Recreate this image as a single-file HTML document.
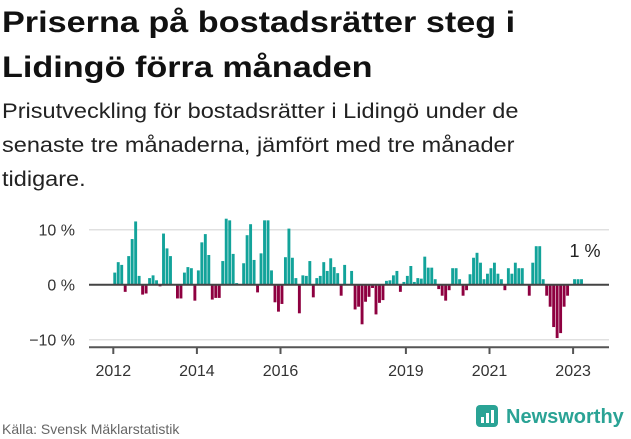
<!DOCTYPE html>
<html><head><meta charset="utf-8"><style>
body{margin:0;width:631px;height:439px;background:#fff;font-family:"Liberation Sans",sans-serif;overflow:hidden;position:relative}
h1{position:absolute;left:2px;top:0px;margin:0;font-size:30px;line-height:45px;font-weight:bold;color:#111;width:900px}
p.sub{position:absolute;left:2px;top:95px;margin:0;font-size:21px;line-height:34px;color:#222;width:900px}
.ln{display:block;transform:scaleX(1.14);transform-origin:left;white-space:nowrap}
.sub .ln{transform:scaleX(1.12)}
.foot{position:absolute;left:2px;top:421px;font-size:14px;color:#666}
.logo{position:absolute;left:476px;top:405px;font-size:20px;font-weight:bold;color:#2aa395;display:flex;align-items:center}
</style></head><body>
<h1><span class="ln">Priserna på bostadsrätter steg i</span><span class="ln">Lidingö förra månaden</span></h1>
<p class="sub"><span class="ln">Prisutveckling för bostadsrätter i Lidingö under de</span><span class="ln">senaste tre månaderna, jämfört med tre månader</span><span class="ln">tidigare.</span></p>
<svg id="chart" width="631" height="439" style="position:absolute;left:0;top:0"></svg>
<div class="foot">Källa: Svensk Mäklarstatistik</div>
<div class="logo"><svg width="24" height="24" style="margin-right:6px"><rect x="0" y="0" width="22" height="22" rx="4" fill="#2aa395"/><rect x="5" y="12" width="3" height="6" fill="#fff"/><rect x="10" y="8" width="3" height="10" fill="#fff"/><rect x="15" y="5" width="3" height="13" fill="#fff"/></svg>Newsworthy</div>
<script>
const values=[2.2,4.1,3.6,-1.3,5.2,8.3,11.5,1.6,-1.8,-1.6,1.2,1.7,0.8,-0.3,9.3,6.6,5.2,0,-2.5,-2.5,2.2,3.2,3.0,-2.9,2.6,7.7,9.2,5.4,-2.7,-2.4,-2.4,4.3,12.0,11.7,5.6,0.3,0,3.9,9.0,11.0,4.5,-1.4,5.7,11.7,11.7,2.6,-3.2,-4.9,-3.5,5.0,10.2,4.9,1.2,-5.2,1.7,1.6,4.3,-2.3,1.2,1.6,4.1,2.5,4.8,3.2,2.1,-2.0,3.6,0,2.5,-4.5,-4.0,-7.2,-3.1,-2.2,-0.6,-5.4,-3.3,-2.8,0.7,0.8,1.7,2.5,-1.3,0.5,1.6,3.4,0.5,1.2,1.1,5.1,3.1,3.1,1.0,-0.8,-2.0,-2.9,-1.0,3.0,3.0,1.0,-2.0,-1.0,1.9,4.9,5.8,4.0,1.0,2.0,3.0,4.0,2.0,1.0,-1.0,3.0,2.0,4.0,3.0,3.0,0,-2.0,4.0,7.0,7.0,1.0,-2.0,-4.0,-7.7,-9.7,-8.8,-4.0,-2.0,0,1.0,1.0,1.0];
const startYear=2012;
const yTicks=[10,0,-10];
const yTickLabels=["10 %","0 %","−10 %"];
const xTicks=[2012,2014,2016,2019,2021,2023];
const lastLabel="1 %";
const svg=document.getElementById('chart');const NS="http://www.w3.org/2000/svg";
const x0=113.3,pxYear=41.8,left=89,right=609;
const X=m=>x0+m*pxYear/12;
const Y=v=>284.7-v*5.5;
function mk(t,a){const e=document.createElementNS(NS,t);for(const k in a)e.setAttribute(k,a[k]);svg.appendChild(e);return e;}
yTicks.forEach((t,i)=>{
 if(t!==0){const g=mk('line',{x1:left,x2:right,y1:Y(t),y2:Y(t),stroke:'#e0e0e0','stroke-width':1.5});
 
 }
 const l=mk('text',{x:75,y:Y(t)+6,'text-anchor':'end','font-size':16,fill:'#333','font-family':'Liberation Sans'});
 l.textContent=yTickLabels[i];
 
 
});
values.forEach((v,i)=>{
 const y=Math.min(Y(v),Y(0)),h=Math.abs(Y(v)-Y(0));
 const b=mk('rect',{x:X(i),y:y,width:2.9,height:h,fill:v>=0?'#12a39a':'#8e0040'});
 
 
});
const z=mk('line',{x1:left,x2:right,y1:Y(0),y2:Y(0),stroke:'#444','stroke-width':2});


const ax=mk('line',{x1:left,x2:right,y1:347.3,y2:347.3,stroke:'#555','stroke-width':2});


xTicks.forEach(yr=>{
 const x=X((yr-startYear)*12);
 const t=mk('line',{x1:x,x2:x,y1:347,y2:354,stroke:'#555','stroke-width':2});
 
 
 const l=mk('text',{x:x,y:376,'text-anchor':'middle','font-size':16,fill:'#333','font-family':'Liberation Sans'});
 l.textContent=yr;
 
 
});
const ll=mk('text',{x:X(values.length-1)+5,y:Y(values[values.length-1])-22,'text-anchor':'middle','font-size':18,fill:'#222','font-family':'Liberation Sans'});
ll.textContent=lastLabel;


</script>
</body></html>
